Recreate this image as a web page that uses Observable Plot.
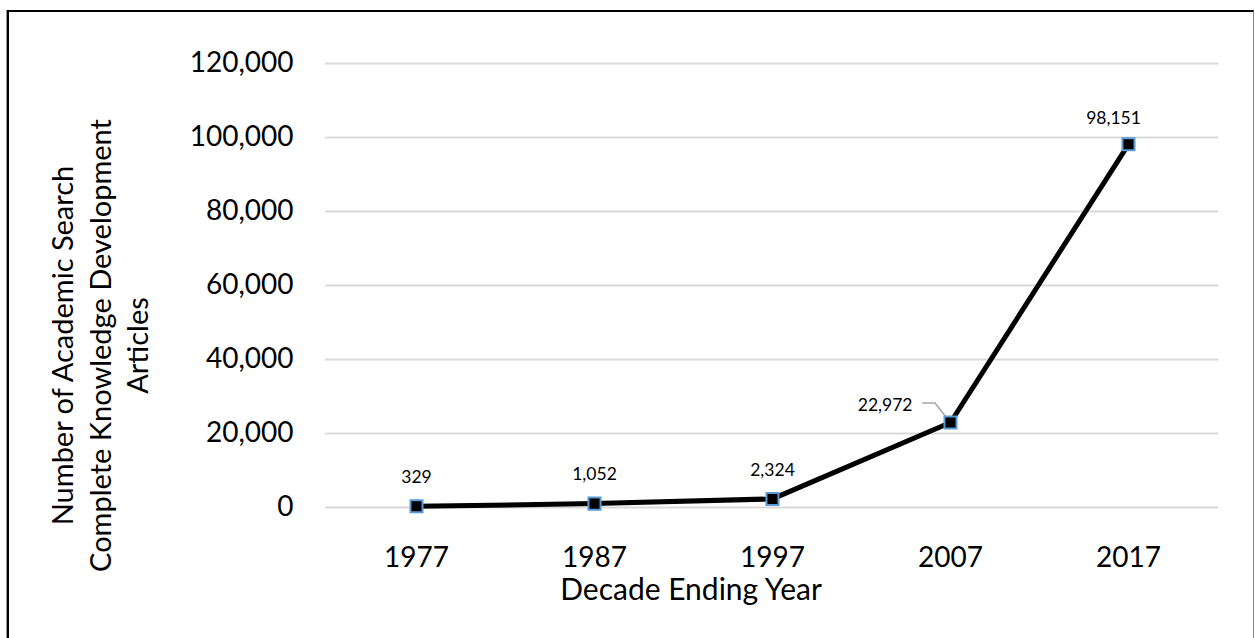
<!DOCTYPE html>
<html>
<head>
<meta charset="utf-8">
<script src="https://cdn.jsdelivr.net/npm/d3@7"></script>
<script src="https://cdn.jsdelivr.net/npm/@observablehq/plot@0.6"></script>
<style>
  html, body { margin: 0; padding: 0; background: #fff; }
  #wrap { position: relative; width: 1255px; height: 638px; overflow: hidden; }
  #frame { position: absolute; left: 7px; top: 10px; width: 1244px; height: 700px;
           border-top: 2px solid #000; border-left: 2px solid #000; border-right: 1px solid #888;
           box-shadow: -1px 0 0 #999; }
  #chart { position: absolute; left: 0; top: 0; }
  #chart svg { font-family: Lato, "Open Sans", sans-serif; }
</style>
</head>
<body>
<div id="wrap"><div id="frame"></div><div id="chart"></div></div>
<script>
const years = ["1977", "1987", "1997", "2007", "2017"];
const articles = [329, 1052, 2324, 22972, 98151];
const labels = ["329", "1,052", "2,324", "22,972", "98,151"];
const yTicks = [0, 20000, 40000, 60000, 80000, 100000, 120000];
const xTitle = "Decade Ending Year";
const yTitle = "Number of Academic Search\nComplete Knowledge Development\nArticles";

const data = years.map((y, i) => ({year: y, value: articles[i], label: labels[i], i}));
const fmt = d3.format(",.0f");

const leader = (index, scales) => {
  const px = scales.x("2007"), py = scales.y(22972);
  const p = d3.create("svg:path")
    .attr("d", `M${px},${py} L${px - 15},${py - 19} L${px - 28},${py - 19}`)
    .attr("fill", "none").attr("stroke", "#a6a6a6").attr("stroke-width", 1.5);
  return p.node();
};

const chart = Plot.plot({
  width: 1255,
  height: 638,
  marginLeft: 325,
  marginRight: 37,
  marginTop: 63,
  marginBottom: 131,
  style: {fontSize: "28px", color: "#000", background: "transparent"},
  x: {type: "point", domain: years, padding: 0.5, label: null},
  y: {domain: [0, 120000], label: null},
  marks: [
    Plot.gridY(yTicks, {stroke: "#d9d9d9", strokeWidth: 2, strokeOpacity: 1}),
    Plot.axisY(yTicks, {tickSize: 0, tickPadding: 32, tickFormat: fmt, fontSize: 28, label: null}),
    Plot.axisX({tickSize: 0, tickPadding: 40, fontSize: 28, label: null}),
    Plot.text([xTitle], {frameAnchor: "bottom", dx: -81, dy: 83, fontSize: 30, lineAnchor: "middle", fill: "#000"}),
    Plot.text([yTitle], {frameAnchor: "left", dx: -227, dy: 60, rotate: -90, fontSize: 29, lineHeight: 1.3, lineAnchor: "middle", textAnchor: "middle", fill: "#000"}),
    Plot.line(data, {x: "year", y: "value", stroke: "#000", strokeWidth: 5, strokeLinejoin: "round"}),
    leader,
    Plot.dot(data, {x: "year", y: "value", symbol: "square", r: 6.8, fill: "#000", stroke: "#5b9bd5", strokeWidth: 2}),
    Plot.text(data.filter(d => d.i < 3), {x: "year", y: "value", text: "label", dy: -29, fontSize: 17.5, fill: "#000"}),
    Plot.text(data.filter(d => d.i === 3), {x: "year", y: "value", text: "label", dx: -38, dy: -17, textAnchor: "end", fontSize: 17.5, fill: "#000"}),
    Plot.text(data.filter(d => d.i === 4), {x: "year", y: "value", text: "label", dx: -15, dy: -26, fontSize: 17.5, fill: "#000"})
  ]
});
document.getElementById("chart").appendChild(chart);
</script>
</body>
</html>
